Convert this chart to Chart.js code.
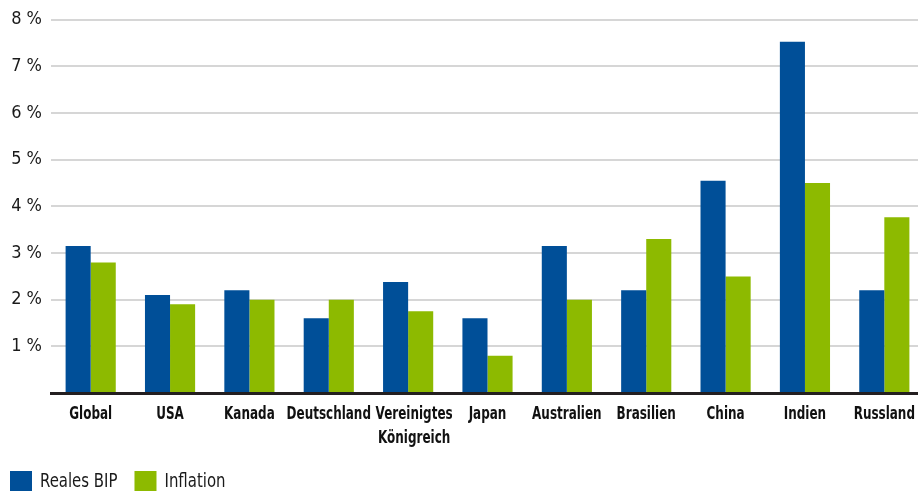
<!DOCTYPE html>
<html lang="de">
<head>
<meta charset="utf-8">
<title>Reales BIP und Inflation</title>
<script src="https://cdn.jsdelivr.net/npm/chart.js@4/dist/chart.umd.min.js"></script>
<style>
    html, body { margin: 0; padding: 0; background: #fff; overflow: hidden; }
    #wrap { width: 918px; height: 491px; overflow: hidden; }
</style>
</head>
<body>
<!-- Zeichenfläche etwas breiter, die Gitterlinien laufen rechts aus dem Bild -->
<div id="wrap"><canvas id="gdpChart" width="924" height="491"></canvas></div>
<script>
// Länder / Regionen
const laender = ['Global', 'USA', 'Kanada', 'Deutschland', ['Vereinigtes', 'Königreich'],
    'Japan', 'Australien', 'Brasilien', 'China', 'Indien', 'Russland'];

// Werte in Prozent
const realesBip = [3.15, 2.1, 2.2, 1.6, 2.38, 1.6, 3.15, 2.2, 4.55, 7.53, 2.2];
const inflation = [2.8, 1.9, 2.0, 2.0, 1.75, 0.8, 2.0, 3.3, 2.5, 4.5, 3.77];

const FONT = "'DejaVu Sans Condensed', 'DejaVu Sans', sans-serif";
const BLUE = '#004f98';
const GREEN = '#8dba00';

// schmale Schrift nachbilden: Text horizontal stauchen
function squeezedText(ctx, text, x, y, factor) {
    ctx.save();
    ctx.translate(x, y);
    ctx.scale(factor, 1);
    ctx.fillText(text, 0, 0);
    ctx.restore();
}

// Achsenbeschriftung (x) und Legende selbst zeichnen
const condensedText = {
    id: 'condensedText',
    afterDraw(chart, args, opts) {
        const ctx = chart.ctx;
        const xScale = chart.scales.x;
        const base = chart.chartArea.bottom;
        const nudge = opts.labelNudge || {};

        ctx.save();
        ctx.fillStyle = '#111';
        ctx.textAlign = 'center';
        ctx.textBaseline = 'middle';
        ctx.font = "bold 18px " + FONT;
        chart.data.labels.forEach((label, i) => {
            const lines = Array.isArray(label) ? label : [label];
            const x = xScale.getPixelForTick(i) + (nudge[i] || 0);
            lines.forEach((line, j) => {
                squeezedText(ctx, line, x, base + 21 + j * 24, 0.74);
            });
        });

        // Legende
        ctx.textAlign = 'left';
        ctx.font = "20px " + FONT;
        let x = 10;
        const y = 471;
        chart.data.datasets.forEach(ds => {
            ctx.fillStyle = ds.backgroundColor;
            ctx.fillRect(x, y, 22, 22);
            ctx.fillStyle = '#1a1a1a';
            const f = 0.83;
            squeezedText(ctx, ds.label, x + 30, y + 11, f);
            x += 30 + ctx.measureText(ds.label).width * f + 17;
        });
        ctx.restore();
    }
};

const ctx = document.getElementById('gdpChart').getContext('2d');
new Chart(ctx, {
    type: 'bar',
    data: {
        labels: laender,
        datasets: [
            {
                label: 'Reales BIP',
                data: realesBip,
                backgroundColor: BLUE,
                categoryPercentage: 0.632,
                barPercentage: 1
            },
            {
                label: 'Inflation',
                data: inflation,
                backgroundColor: GREEN,
                categoryPercentage: 0.632,
                barPercentage: 1
            }
        ]
    },
    options: {
        responsive: false,
        animation: false,
        layout: { padding: { top: 16, right: 0, left: 0, bottom: 0 } },
        plugins: {
            tooltip: { enabled: false },
            legend: { display: false },
            condensedText: { labelNudge: { 4: 6 } }
        },
        scales: {
            x: {
                grid: { display: false },
                border: { color: '#231f20', width: 3 },
                ticks: { display: false },
                afterFit(scale) { scale.height = 98; }
            },
            y: {
                min: 0,
                max: 8,
                border: { display: false },
                grid: { color: '#d6d6d6', lineWidth: 2, drawTicks: false },
                ticks: {
                    stepSize: 1,
                    color: '#1a1a1a',
                    padding: 9,
                    font: { family: FONT, size: 18 },
                    callback: function(value) {
                        return value === 0 ? '' : value + ' %';
                    }
                },
                afterFit(scale) { scale.width = 51; }
            }
        }
    },
    plugins: [condensedText]
});
</script>
</body>
</html>
